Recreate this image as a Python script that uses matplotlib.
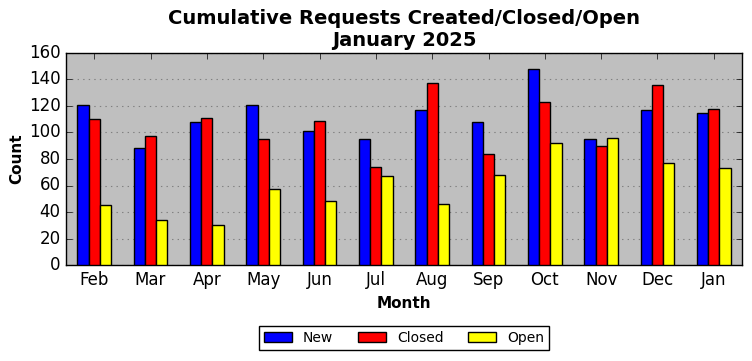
import matplotlib
matplotlib.use("Agg")
import matplotlib.pyplot as plt
import numpy as np

months = ["Feb", "Mar", "Apr", "May", "Jun", "Jul", "Aug", "Sep", "Oct", "Nov", "Dec", "Jan"]
new_vals = [121, 88, 108, 121, 101, 95, 117, 108, 148, 95, 117, 115]
closed_vals = [110, 97, 111, 95, 109, 74, 137, 84, 123, 90, 136, 118]
open_vals = [45, 34, 30, 57, 48, 67, 46, 68, 92, 96, 77, 73]
yticks = [0, 20, 40, 60, 80, 100, 120, 140, 160]

plt.style.use("classic")
fig = plt.figure(figsize=(7.52, 3.61), dpi=100)
ax = fig.add_axes([66/752, 1-265/361, 676/752, 212/361])
ax.set_facecolor("#bfbfbf")

x = np.arange(len(months))
w = 0.2
ax.bar(x - w, new_vals, w, color="blue", edgecolor="black", linewidth=1, label="New", zorder=3)
ax.bar(x, closed_vals, w, color="red", edgecolor="black", linewidth=1, label="Closed", zorder=3)
ax.bar(x + w, open_vals, w, color="yellow", edgecolor="black", linewidth=1, label="Open", zorder=3)

ax.set_xlim(-0.5, len(months) - 0.5)
ax.set_ylim(0, 160)
ax.set_xticks(x)
ax.set_xticklabels(months, fontsize=12)
ax.set_yticks(yticks)
ax.tick_params(axis="y", labelsize=12)
ax.yaxis.grid(True, linestyle=":", color="#808080", linewidth=0.8, zorder=0)
ax.set_axisbelow(True)

ax.set_title("Cumulative Requests Created/Closed/Open\nJanuary 2025", fontsize=14, fontweight="bold")
ax.set_xlabel("Month", fontsize=11, fontweight="bold")
ax.set_ylabel("Count", fontsize=11, fontweight="bold", labelpad=3.5)

ax.legend(loc="upper center", bbox_to_anchor=(0.5, -0.255), ncol=3, fontsize=10,
          frameon=True, fancybox=False, handlelength=2, columnspacing=1.8,
          borderpad=0.35)

fig.savefig("out.png", dpi=100)
